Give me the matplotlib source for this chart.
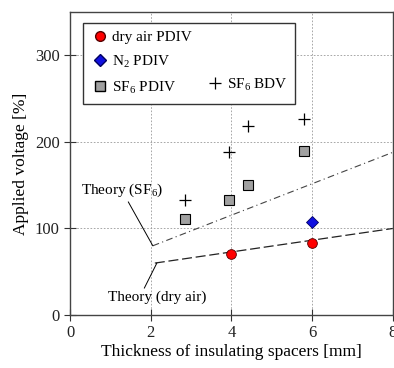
import matplotlib
matplotlib.use("Agg")
import matplotlib.pyplot as plt
from matplotlib.lines import Line2D

plt.rcParams['font.family'] = ['Liberation Serif', 'DejaVu Serif']
plt.rcParams['mathtext.fontset'] = 'custom'
plt.rcParams['mathtext.rm'] = 'Liberation Serif'

# measured data
air_x = [4, 6]
air_y = [71, 83]
n2_x = [6]
n2_y = [108]
sf6_pdiv_x = [2.85, 3.95, 4.4, 5.8]
sf6_pdiv_y = [111, 133, 150, 189]
sf6_bdv_x = [2.85, 3.95, 4.4, 5.8]
sf6_bdv_y = [133, 188, 219, 227]

# theory lines
theory_sf6_x = [2.05, 8]
theory_sf6_y = [80, 188]
theory_air_x = [2.1, 8]
theory_air_y = [60, 100]

fig = plt.figure(figsize=(3.94, 3.68), dpi=100)
ax = fig.add_axes([0.178, 0.144, 0.819, 0.823])

ax.plot(theory_sf6_x, theory_sf6_y, color='#444444', lw=0.8, linestyle=(0, (6, 3, 1, 3)))
ax.plot(theory_air_x, theory_air_y, color='#222222', lw=0.9, linestyle=(0, (8, 3)))

ax.plot(air_x, air_y, 'o', color='red', mec='#550000', mew=0.6, ms=7, zorder=5)
ax.plot(n2_x, n2_y, 'D', color='#1010e0', mec='#000060', mew=0.6, ms=6.5, zorder=5)
ax.plot(sf6_pdiv_x, sf6_pdiv_y, 's', color='#a0a0a0', mec='black', mew=0.8, ms=7, zorder=5)
ax.plot(sf6_bdv_x, sf6_bdv_y, '+', color='black', mew=0.9, ms=8, zorder=5)

ax.set_xlim(0, 8)
ax.set_ylim(0, 350)
ax.set_xticks([0, 2, 4, 6, 8])
ax.set_yticks([0, 100, 200, 300])
ax.grid(True, color='#999999', linestyle=(0, (2, 2)), lw=0.6)
ax.tick_params(direction='inout', length=8, width=0.8, colors='#333333',
               labelsize=12, labelcolor='#222222')
for s in ax.spines.values():
    s.set_color('#444444')
    s.set_linewidth(1.0)

ax.set_xlabel('Thickness of insulating spacers [mm]', fontsize=12.5, labelpad=2)
ax.set_ylabel('Applied voltage [%]', fontsize=12.5, labelpad=4)

ax.annotate('Theory (SF$_6$)', xy=(2.05, 80), xytext=(0.28, 144),
            fontsize=11, ha='left', va='center',
            arrowprops=dict(arrowstyle='-', color='black', lw=0.7,
                            shrinkA=0, shrinkB=0, relpos=(0.55, 0)))
ax.annotate('Theory (dry air)', xy=(2.15, 60), xytext=(0.95, 20),
            fontsize=11, ha='left', va='center',
            arrowprops=dict(arrowstyle='-', color='black', lw=0.7,
                            shrinkA=0, shrinkB=0, relpos=(0.35, 1)))

blank = Line2D([], [], linestyle='none')
handles = [
    Line2D([], [], marker='o', color='red', mec='#550000', ls='none', ms=7),
    Line2D([], [], marker='D', color='#1010e0', mec='#000060', ls='none', ms=6),
    Line2D([], [], marker='s', color='#a0a0a0', mec='black', ls='none', ms=7),
    blank, blank,
    Line2D([], [], marker='+', color='black', mew=0.9, ls='none', ms=8),
]
labels = ['dry air PDIV', 'N$_2$ PDIV', 'SF$_6$ PDIV', '', '', 'SF$_6$ BDV']
leg = ax.legend(handles, labels, ncol=2, loc='upper left', bbox_to_anchor=(0.04, 0.964),
                borderaxespad=0, fontsize=11, frameon=True, fancybox=False,
                handletextpad=0.2, handlelength=1.2, columnspacing=0.9,
                borderpad=0.5, labelspacing=0.6)
leg.get_frame().set_edgecolor('#333333')
leg.get_frame().set_linewidth(1.0)
leg.get_frame().set_alpha(1)

fig.savefig('out.png', dpi=100)
